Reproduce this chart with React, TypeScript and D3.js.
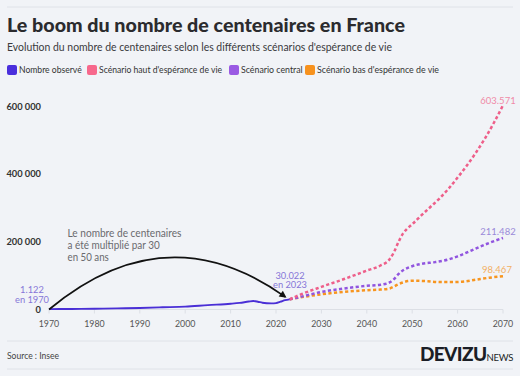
import React from "react";
import * as d3 from "d3";

const W = 520;
const H = 376;

const observedYears = [1970, 1975, 1980, 1985, 1990, 1995, 2000, 2005, 2010, 2012, 2014, 2015, 2016, 2017, 2018, 2019, 2020, 2021, 2022, 2023];
const observedValues = [1122, 1500, 2200, 3200, 4500, 6500, 8500, 13000, 17000, 19500, 23500, 25000, 23000, 20000, 18500, 18000, 19000, 23000, 27500, 30022];

const highYears = [2023, 2025, 2030, 2035, 2040, 2043, 2045, 2046, 2047, 2048, 2049, 2050, 2052, 2054, 2056, 2058, 2060, 2062, 2064, 2066, 2068, 2070];
const highValues = [30022, 42000, 67000, 90000, 115000, 130000, 148000, 170000, 200000, 225000, 240000, 252000, 278000, 303000, 328000, 357000, 390000, 425000, 463000, 505000, 552000, 603571];

const centralYears = [2023, 2025, 2030, 2035, 2040, 2043, 2045, 2046, 2047, 2048, 2049, 2050, 2052, 2055, 2058, 2060, 2063, 2065, 2067, 2070];
const centralValues = [30022, 36000, 52000, 62000, 70000, 73000, 80000, 90000, 105000, 116000, 123000, 128000, 135000, 140000, 148000, 157000, 174000, 186000, 197000, 211482];

const lowYears = [2023, 2025, 2030, 2035, 2040, 2043, 2045, 2046, 2047, 2048, 2049, 2050, 2053, 2056, 2059, 2061, 2064, 2067, 2070];
const lowValues = [30022, 35000, 45000, 52000, 57000, 59000, 62000, 68000, 75000, 80000, 84000, 85000, 84000, 81000, 81000, 82000, 88000, 94000, 98467];

const yTicks = [0, 200000, 400000, 600000];
const xTicks = [1970, 1980, 1990, 2000, 2010, 2020, 2030, 2040, 2050, 2060, 2070];

const legendLabels = ["Nombre observé", "Scénario haut d'espérance de vie", "Scénario central", "Scénario bas d'espérance de vie"];
const legendColors = ["#4a2fdc", "#f7688c", "#9a5ae3", "#f7921e"];
const legendX = [7, 87, 229, 305];
const legendW = [62.7, 123, 61.7, 122];

const annotationLines = ["Le nombre de centenaires", "a été multiplié par 30", "en 50 ans"];
const annotationW = [114, 92.3, 41.3];

const FONT = "Lato, 'Open Sans', sans-serif";

export default function App() {
  const x = d3.scaleLinear().domain([1970, 2070]).range([49, 503]);
  const y = d3.scaleLinear().domain([0, 600000]).range([309.5, 106.5]);

  const line = d3
    .line<[number, number]>()
    .x((d) => x(d[0]))
    .y((d) => y(d[1]))
    .curve(d3.curveMonotoneX);

  const zip = (a: number[], b: number[]) => a.map((v, i) => [v, b[i]] as [number, number]);

  const obsPath = line(zip(observedYears, observedValues)) || "";
  const highPath = line(zip(highYears, highValues)) || "";
  const centralPath = line(zip(centralYears, centralValues)) || "";
  const lowPath = line(zip(lowYears, lowValues)) || "";

  // arrow annotation: quadratic arc from 1970 to 2023 point
  const ax0 = x(1970);
  const ay0 = y(0);
  const ax1 = x(2022.7) - 3;
  const ay1 = y(30022) - 2.5;
  const cx = (ax0 + ax1) / 2 - 1;
  const cy = 212;
  const arc = `M${ax0},${ay0} Q${cx},${cy} ${ax1},${ay1}`;

  const ang = Math.atan2(ay1 - cy, ax1 - cx);
  const hl = 7;
  const hw = 3.6;
  const tipX = ax1 + Math.cos(ang) * 1.5;
  const tipY = ay1 + Math.sin(ang) * 1.5;
  const bx = tipX - Math.cos(ang) * hl;
  const by = tipY - Math.sin(ang) * hl;
  const head = `M${tipX},${tipY} L${bx - Math.sin(ang) * hw},${by + Math.cos(ang) * hw} L${bx + Math.sin(ang) * hw},${by - Math.cos(ang) * hw} Z`;

  return (
    <svg width={W} height={H} style={{ display: "block", position: "absolute", left: 0, top: 0 }} fontFamily={FONT}>
      <rect x={0} y={0} width={W} height={H} fill="#f1f3f7" />
      <line x1={7} x2={513} y1={7} y2={7} stroke="#dfe2e8" strokeWidth={1} />
      <text x={7} y={32} fontSize={19.5} fontWeight={900} fill="#2b2b2e" textLength={398} lengthAdjust="spacingAndGlyphs">
        Le boom du nombre de centenaires en France
      </text>
      <text x={7} y={51} fontSize={11.5} fill="#3a3a3d" textLength={385} lengthAdjust="spacingAndGlyphs">
        Evolution du nombre de centenaires selon les différents scénarios d'espérance de vie
      </text>

      {legendLabels.map((l, i) => (
        <g key={l}>
          <rect x={legendX[i]} y={65} width={10} height={10} rx={2} fill={legendColors[i]} />
          <text x={legendX[i] + 12} y={73.3} fontSize={9.6} fill="#333" textLength={legendW[i]} lengthAdjust="spacingAndGlyphs">
            {l}
          </text>
        </g>
      ))}

      {/* y axis labels */}
      {yTicks.map((t) => (
        <text key={t} x={41} y={y(t) + 3.3} fontSize={9.3} fontWeight={700} fill="#333" textAnchor="end">
          {d3.format(",")(t).replace(/,/g, " ")}
        </text>
      ))}

      {/* baseline and ticks */}
      <line x1={x(1970)} x2={x(2070)} y1={y(0)} y2={y(0)} stroke="#dcdfe5" strokeWidth={1} />
      {xTicks.map((t) => (
        <g key={t}>
          <line x1={x(t)} x2={x(t)} y1={y(0)} y2={y(0) + 4} stroke="#dcdfe5" strokeWidth={1} />
          <text x={x(t)} y={326.5} fontSize={9.8} fill="#555" textAnchor="middle" textLength={20.5} lengthAdjust="spacingAndGlyphs">
            {t}
          </text>
        </g>
      ))}

      {/* lines */}
      <path d={lowPath} fill="none" stroke="#f7951f" strokeWidth={2.5} strokeDasharray="3.2,2.4" />
      <path d={centralPath} fill="none" stroke="#9155df" strokeWidth={2.5} strokeDasharray="3.2,2.4" />
      <path d={highPath} fill="none" stroke="#ee5f8a" strokeWidth={2.5} strokeDasharray="3.2,2.4" />
      <path d={obsPath} fill="none" stroke="#4a2fd6" strokeWidth={1.9} />

      {/* arrow */}
      <path d={arc} fill="none" stroke="#111" strokeWidth={1.7} />
      <path d={head} fill="#111" />

      {annotationLines.map((l, i) => (
        <text key={l} x={67.5} y={236.5 + i * 12} fontSize={10.8} fill="#6a6a6e" textLength={annotationW[i]} lengthAdjust="spacingAndGlyphs">
          {l}
        </text>
      ))}

      <text fontSize={9.3} fill="#8676d8" textAnchor="middle">
        <tspan x={32} y={293}>1.122</tspan>
        <tspan x={32} y={302.5}>en 1970</tspan>
      </text>
      <text fontSize={9.3} fill="#8676d8" textAnchor="middle">
        <tspan x={290} y={278.5}>30.022</tspan>
        <tspan x={290} y={288}>en 2023</tspan>
      </text>

      <text x={498} y={y(603571) - 1} fontSize={9.5} fill="#f08ba8" textAnchor="middle">603.571</text>
      <text x={498} y={y(211482) - 3} fontSize={9.5} fill="#9a8ad9" textAnchor="middle">211.482</text>
      <text x={497} y={y(98467) - 3} fontSize={9.5} fill="#f3b063" textAnchor="middle">98.467</text>

      {/* footer */}
      <line x1={7} x2={513} y1={341} y2={341} stroke="#dfe2e8" strokeWidth={1} />
      <line x1={7} x2={513} y1={369} y2={369} stroke="#dfe2e8" strokeWidth={1} />
      <text x={7} y={358.5} fontSize={9.6} fill="#444" textLength={52} lengthAdjust="spacingAndGlyphs">Source : Insee</text>
      <text x={513} y={360.7} textAnchor="end" fill="#1b1e26">
        <tspan fontSize={19} fontWeight={900} letterSpacing={-0.6}>DEVIZU</tspan>
        <tspan fontSize={9.5} letterSpacing={-0.3}>NEWS</tspan>
      </text>
    </svg>
  );
}
